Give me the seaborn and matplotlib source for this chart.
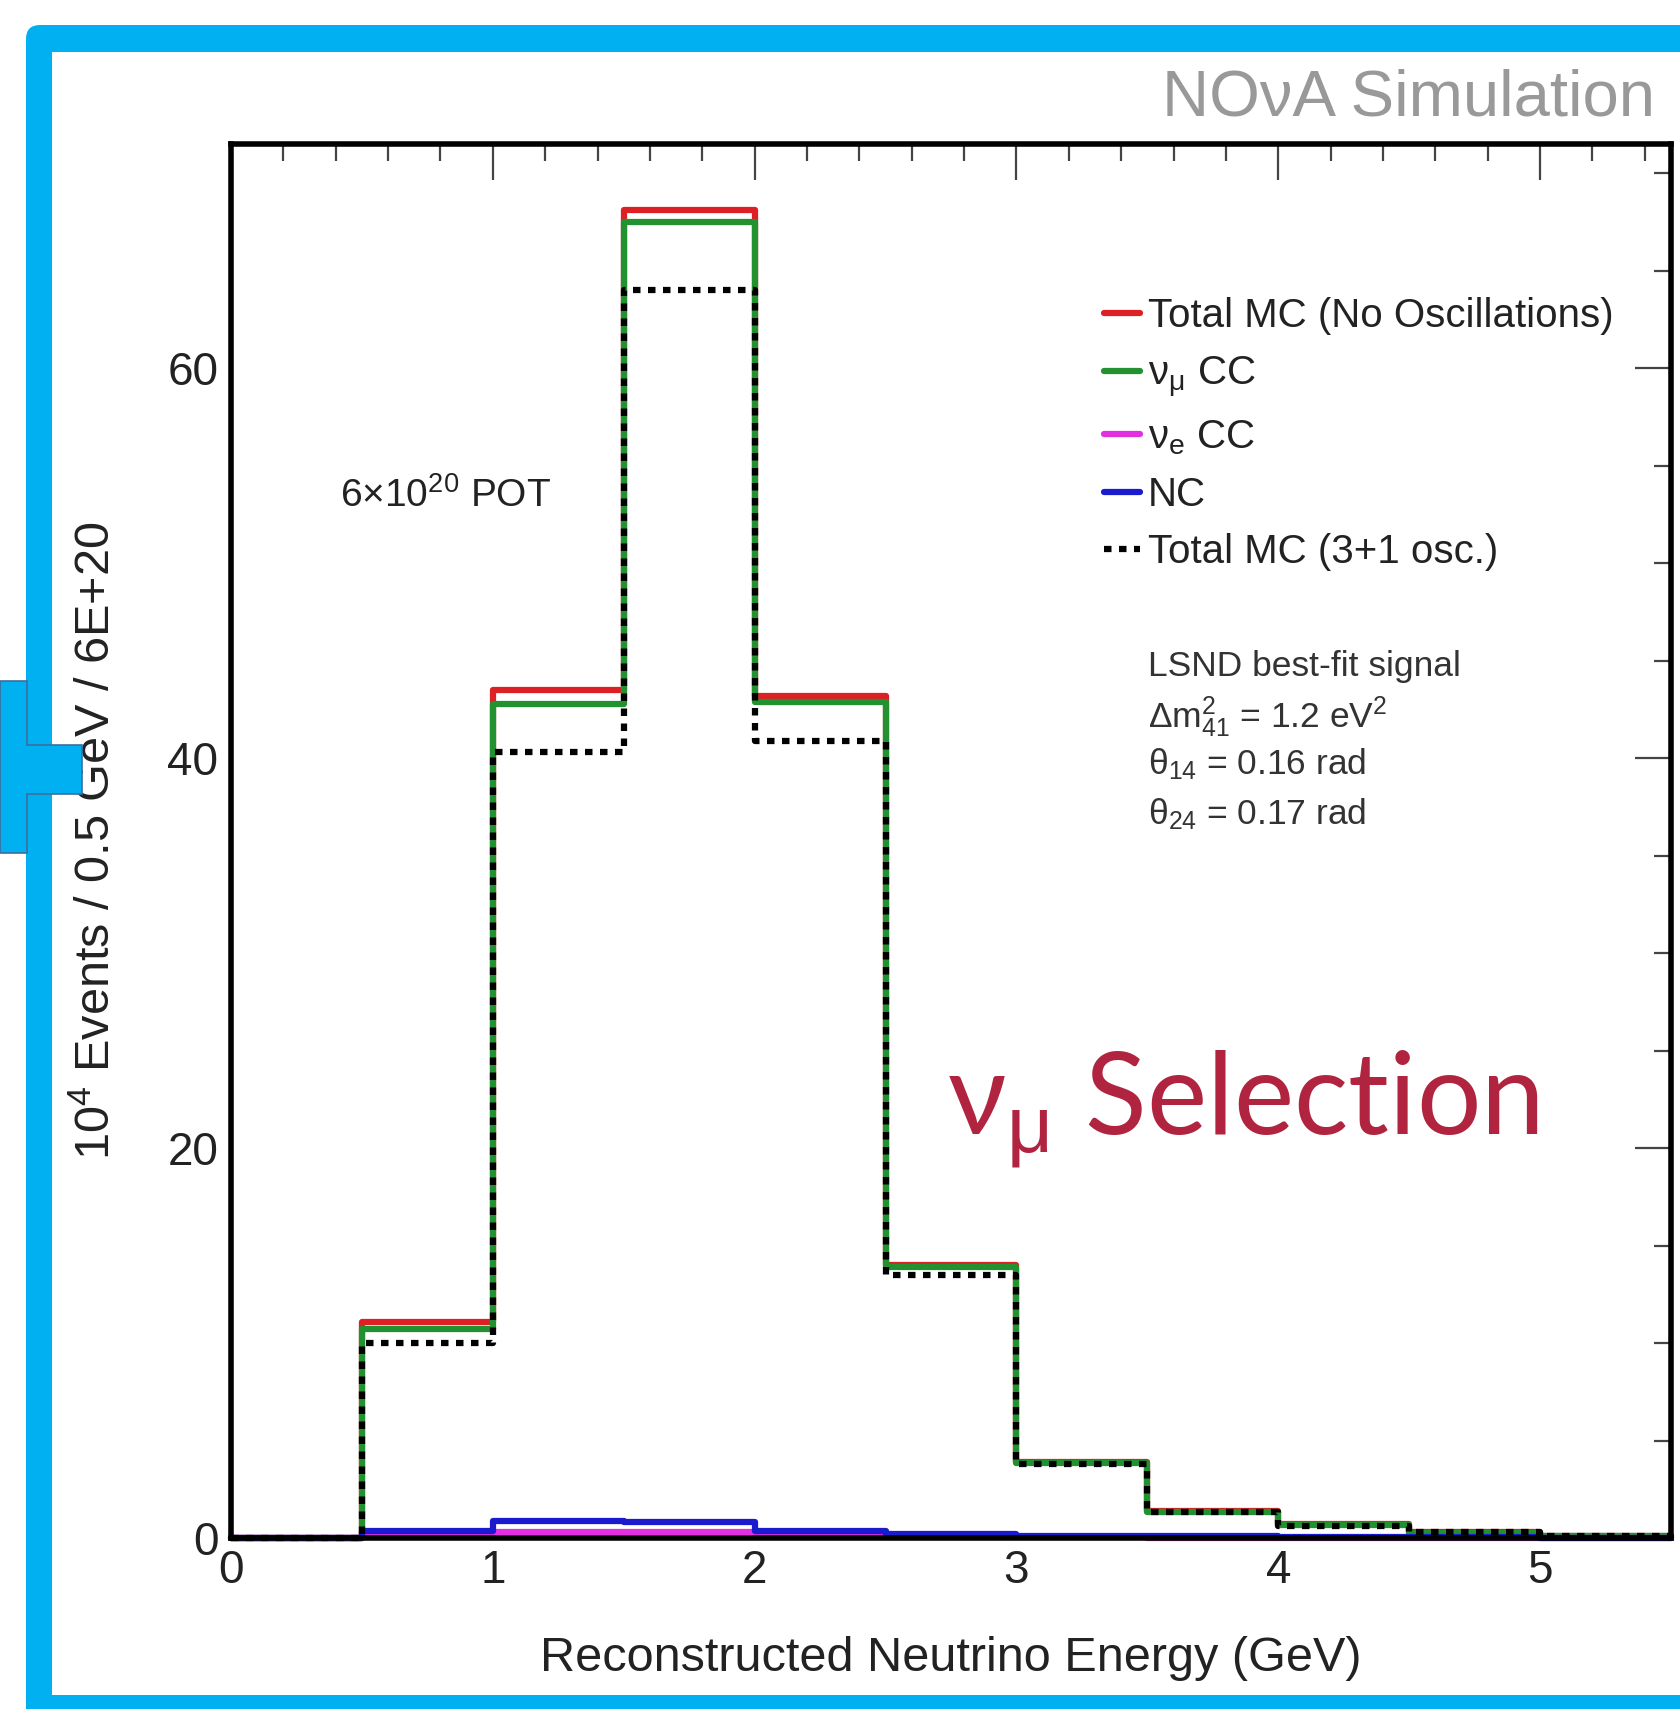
import numpy as np
import matplotlib
matplotlib.use("Agg")
import matplotlib.pyplot as plt
import seaborn as sns
from matplotlib.patches import Rectangle, FancyBboxPatch, Polygon
from matplotlib.transforms import IdentityTransform

# -----------------------------
# Data (10^4 events per 0.5 GeV bin)
# -----------------------------
bin_edges = [0.0, 0.5, 1.0, 1.5, 2.0, 2.5, 3.0, 3.5, 4.0, 4.5, 5.0, 5.5]
bin_centers = [0.25, 0.75, 1.25, 1.75, 2.25, 2.75, 3.25, 3.75, 4.25, 4.75, 5.25]

total_noosc = [0.0, 11.1, 43.5, 68.1, 43.2, 14.0, 3.9, 1.4, 0.7, 0.3, 0.1]
numu_cc = [0.0, 10.7, 42.8, 67.5, 42.9, 13.9, 3.85, 1.35, 0.65, 0.28, 0.1]
nue_cc = [0.0, 0.1, 0.3, 0.3, 0.12, 0.05, 0.03, 0.02, 0.01, 0.0, 0.0]
nc = [0.0, 0.35, 0.85, 0.8, 0.35, 0.2, 0.12, 0.08, 0.05, 0.03, 0.02]
total_osc = [0.0, 10.0, 40.3, 64.0, 40.9, 13.5, 3.8, 1.35, 0.6, 0.3, 0.1]

series_labels = ["Total MC (No Oscillations)", "ν$_{μ}$ CC", "ν$_{e}$ CC",
                 "NC", "Total MC (3+1 osc.)"]

x_ticks = [0, 1, 2, 3, 4, 5]
y_ticks = [0, 20, 40, 60]

# -----------------------------
# Style
# -----------------------------
sns.set_style("white")
plt.rcParams["font.family"] = ["Liberation Sans", "DejaVu Sans"]
plt.rcParams["mathtext.fontset"] = "custom"
plt.rcParams["mathtext.rm"] = "Liberation Sans"
plt.rcParams["mathtext.it"] = "Liberation Sans"
plt.rcParams["mathtext.bf"] = "Liberation Sans:bold"

W, H = 1681, 1709
fig = plt.figure(figsize=(W / 100, H / 100), dpi=100)
fig.patch.set_facecolor("white")

# slide frame (pixel coordinates, origin bottom-left)
frame = FancyBboxPatch((26, -100), 1900, H + 100 - 25,
                       boxstyle="round,pad=0,rounding_size=14",
                       transform=IdentityTransform(), facecolor="#00B0F0",
                       edgecolor="none", zorder=-3)
fig.add_artist(frame)
fig.add_artist(Rectangle((52, H - 1695), 2000, 1695 - 52,
                         transform=IdentityTransform(), facecolor="white",
                         edgecolor="none", zorder=-2))
tab = [(0, 681), (27, 681), (27, 745), (82, 745), (82, 794), (27, 794),
       (27, 853), (0, 853)]
fig.add_artist(Polygon([(x, H - y) for x, y in tab], closed=True,
                       transform=IdentityTransform(), facecolor="#00B0F0",
                       edgecolor="#3B6E9E", linewidth=1.2, zorder=5))

ax = fig.add_axes([231 / W, 1 - 1538 / H, 1440 / W, 1394 / H])
ax.set_facecolor("white")

# -----------------------------
# Histograms
# -----------------------------
styles = [
    (total_noosc, "#DD1F26", "-"),
    (numu_cc, "#229130", "-"),
    (nue_cc, "#E030E0", "-"),
    (nc, "#1A1ACF", "-"),
    (total_osc, "black", (0, (1.2, 1.2))),
]
for (vals, col, ls), lab in zip(styles, series_labels):
    sns.histplot(x=bin_centers, weights=vals, bins=bin_edges, element="step",
                 fill=False, color=col, linewidth=4.5, linestyle=ls,
                 label=lab, ax=ax, clip_on=False)

ax.set_xlim(0, 5.5)
ax.set_ylim(0, 71.5)
ax.set_xticks(x_ticks)
ax.set_yticks(y_ticks)
ax.set_xticks(np.arange(0, 5.51, 0.2), minor=True)
ax.set_yticks(np.arange(0, 71, 5), minor=True)

ax.tick_params(which="both", direction="in", top=True, right=True,
               color="#444444", width=1.6)
ax.tick_params(which="major", length=26, labelsize=33, labelcolor="#222222")
ax.tick_params(axis="x", which="major", pad=8)
ax.tick_params(axis="y", which="major", pad=9)
ax.tick_params(which="minor", length=12.5)

for sp in ax.spines.values():
    sp.set_color("black")
    sp.set_linewidth(4)
    sp.set_visible(True)

ax.set_xlabel("Reconstructed Neutrino Energy (GeV)", fontsize=35,
              color="#222222")
ax.xaxis.set_label_coords(0.5, -0.070)
ax.set_ylabel("10$^{4}$ Events / 0.5 GeV / 6E+20", fontsize=35,
              color="#222222")
ax.yaxis.set_label_coords(-0.077, 0.5)

leg = ax.legend(loc="upper left", bbox_to_anchor=(0.606, 0.89), frameon=False,
                fontsize=29, handlelength=0.9, handletextpad=0.2,
                labelspacing=0.47, borderpad=0, borderaxespad=0)
for t in leg.get_texts():
    t.set_color("#222222")

# -----------------------------
# Annotations
# -----------------------------
ax.text(0.0757, 0.7475, "6×10$^{20}$ POT", transform=ax.transAxes,
        fontsize=28, va="center", ha="left", color="#222222")
lsnd = ["LSND best-fit signal", "Δm$^{2}_{41}$ = 1.2 eV$^{2}$",
        "θ$_{14}$ = 0.16 rad", "θ$_{24}$ = 0.17 rad"]
for txt, yy in zip(lsnd, [0.6184, 0.5818, 0.5481, 0.5122]):
    ax.text(0.6366, yy, txt, transform=ax.transAxes, fontsize=25.5,
            va="baseline", ha="left", color="#333333")

ax.text(0.4969, 0.2898, "ν$_{μ}$ Selection", transform=ax.transAxes,
        fontsize=82, va="baseline", ha="left", color="#B0243F",
        family=["Lato", "DejaVu Sans"])

fig.text(1655 / W, 1 - 99 / H, "NOνA Simulation", ha="right", va="center",
         fontsize=47, color="#999999")

fig.savefig("out.png", dpi=100)
